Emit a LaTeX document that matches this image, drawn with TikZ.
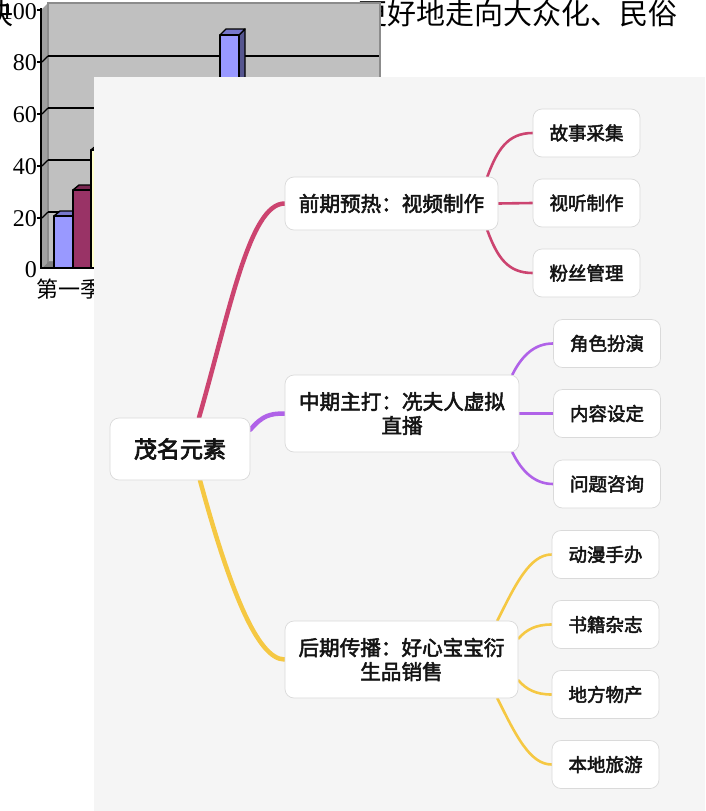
\documentclass[tikz,border=0pt]{standalone}
\usepackage{fontspec}
\setmainfont{Liberation Serif}
\newfontfamily\cjk{Noto Sans CJK SC}
\newfontfamily\cjkm[FakeBold=2.5]{Noto Sans CJK SC}
\newfontfamily\cjkb[FakeBold=3.2]{Noto Sans CJK SC}
\usetikzlibrary{calc}
\pgfdeclarelayer{bg}
\pgfdeclarelayer{mid}
\pgfsetlayers{bg,mid,main}
\definecolor{mmpink}{HTML}{CC4470}
\definecolor{mmpurple}{HTML}{B062E8}
\definecolor{mmyellow}{HTML}{F5C843}
\definecolor{mmborder}{HTML}{DADADA}
\definecolor{panelbg}{HTML}{F5F5F5}
\definecolor{mmtext}{HTML}{141414}
\definecolor{wallgray}{HTML}{C0C0C0}
\definecolor{wallborder}{HTML}{8C8C8C}
\definecolor{sidegray}{HTML}{A0A0A0}
\definecolor{floorgray}{HTML}{808080}
\definecolor{barblue}{HTML}{9999FF}
\definecolor{barblueside}{HTML}{55558F}
\definecolor{barbluetop}{HTML}{7777CC}
\definecolor{barmaroon}{HTML}{993366}
\definecolor{barmaroontop}{HTML}{7A2852}
\definecolor{baryellow}{HTML}{FFFFCC}
\begin{document}
\begin{tikzpicture}[x=1pt,y=-1pt,
  mm/.style={draw=mmborder, fill=white, rounded corners=9pt, line width=0.7pt, inner sep=0pt, align=center, text=mmtext},
  rootbox/.style={mm, minimum width=140pt, minimum height=62pt, font=\cjkb\fontsize{23}{27}\selectfont},
  midbox/.style={mm, minimum height=53pt, font=\cjkm\fontsize{20.6}{24}\selectfont},
  leafbox/.style={mm, minimum width=107pt, minimum height=48pt, font=\cjkm\fontsize{18.5}{22}\selectfont},
  mainedge/.style={line width=4.5pt, line cap=round},
  subedge/.style={line width=2.6pt, line cap=round},
  barline/.style={draw=black, line width=1.4pt, line join=round},
  ticklab/.style={anchor=east, inner sep=0pt, font=\fontsize{24}{24}\selectfont},
  gridln/.style={draw=black, line width=1.4pt}
]
\useasboundingbox (0,0) rectangle (705,811);

\begin{pgfonlayer}{bg}
\fill[white] (0,0) rectangle (705,811);
% text line behind the chart
\node[anchor=base east, inner sep=0pt, font=\cjk\fontsize{29}{29}\selectfont] (tleft) at (14,24) {决};
\node[anchor=base west, inner sep=0pt, font=\cjk\fontsize{29}{29}\selectfont] (tright) at (358,24) {更好地走向大众化、民俗};
% chart walls
\fill[sidegray] (42,9) -- (48,3) -- (48,262) -- (42,268) -- cycle;
\filldraw[fill=wallgray, draw=wallborder, line width=1.5pt] (48,3) rectangle (380,262);
\fill[floorgray] (42,268) -- (48,262) -- (380,262) -- (374,268) -- cycle;
% gridlines
\foreach \gy in {56,108,160,212}{
  \draw[gridln] (48,\gy) -- (379,\gy);
  \draw[gridln] (42,\gy+6) -- (48,\gy);
  \draw[gridln] (37,\gy+6) -- (42,\gy+6);
}
\draw[gridln] (37,10) -- (42,10);
% axes
\draw[draw=black, line width=2pt] (41,8) -- (41,268) -- (380,268);
% bars
\filldraw[barline, fill=barbluetop] (54,216) -- (60,211) -- (79,211) -- (73,216) -- cycle;
\filldraw[barline, fill=barblue] (54,216) rectangle (73,268);
\filldraw[barline, fill=barmaroontop] (73,190) -- (79,185) -- (97,185) -- (91,190) -- cycle;
\filldraw[barline, fill=barmaroon] (73,190) rectangle (91,268);
\filldraw[barline, fill=baryellow] (91,150) -- (97,145) -- (116,145) -- (110,150) -- cycle;
\filldraw[barline, fill=baryellow] (91,150) rectangle (110,268);
\filldraw[barline, fill=barblueside] (239,35) -- (245,29) -- (245,263) -- (239,268) -- cycle;
\filldraw[barline, fill=barbluetop] (220,35) -- (226,29) -- (245,29) -- (239,35) -- cycle;
\filldraw[barline, fill=barblue] (220,35) rectangle (239,268);
% tick labels
\node[ticklab] (l100) at (37,12) {100};
\node[ticklab] (l80) at (37,63) {80};
\node[ticklab] (l60) at (37,115) {60};
\node[ticklab] (l40) at (37,167) {40};
\node[ticklab] (l20) at (37,219) {20};
\node[ticklab] (l0) at (37,270) {0};
\node[anchor=west, inner sep=0pt, font=\cjk\fontsize{22}{22}\selectfont] (xlab) at (36,289) {第一季};
% mind map panel
\fill[panelbg] (94,77) rectangle (705,811);
\end{pgfonlayer}

% nodes
\node[rootbox] (root) at (180,449) {茂名元素};
\node[midbox, minimum width=213pt] (n1) at (391.5,203.5) {前期预热：视频制作};
\node[midbox, minimum width=234pt, minimum height=77pt] (n2) at (402,413.5) {中期主打：冼夫人虚拟\\直播};
\node[midbox, minimum width=233pt, minimum height=77pt] (n3) at (401.5,659.5) {后期传播：好心宝宝衍\\生品销售};
\node[leafbox] (a1) at (586.5,133) {故事采集};
\node[leafbox] (a2) at (586.5,203) {视听制作};
\node[leafbox] (a3) at (586.5,273) {粉丝管理};
\node[leafbox] (b1) at (607,343.5) {角色扮演};
\node[leafbox] (b2) at (607,413.5) {内容设定};
\node[leafbox] (b3) at (607,484) {问题咨询};
\node[leafbox] (c1) at (605.5,554.5) {动漫手办};
\node[leafbox] (c2) at (605.5,624.5) {书籍杂志};
\node[leafbox] (c3) at (605.5,694.5) {地方物产};
\node[leafbox] (c4) at (605.5,764.5) {本地旅游};

\begin{pgfonlayer}{mid}
% main branches
\draw[mainedge, mmpink] ($(root.north)+(19,0)$) .. controls +(31,-108) and +(-35,0) .. (n1.west);
\draw[mainedge, mmpurple] ($(root.north east)+(0,12)$) .. controls +(12,-14) and +(-15,0) .. (n2.west);
\draw[mainedge, mmyellow] ($(root.south)+(20,0)$) .. controls +(30,110) and +(-27,0) .. (n3.west);
% pink sub branches
\draw[subedge, mmpink] ($(n1.north east)+(-11,0)$) .. controls +(10,-27) and +(-25,0) .. (a1.west);
\draw[subedge, mmpink] (n1.east) -- (a2.west);
\draw[subedge, mmpink] ($(n1.south east)+(-11,0)$) .. controls +(10,27) and +(-25,0) .. (a3.west);
% purple sub branches
\draw[subedge, mmpurple] ($(n2.north east)+(-7,0)$) .. controls +(10,-20) and +(-18,0) .. (b1.west);
\draw[subedge, mmpurple] (n2.east) -- (b2.west);
\draw[subedge, mmpurple] ($(n2.south east)+(-7,0)$) .. controls +(10,20) and +(-18,0) .. (b3.west);
% yellow sub branches
\draw[subedge, mmyellow] ($(n3.north east)+(-21,0)$) .. controls +(18,-36) and +(-22,0) .. (c1.west);
\draw[subedge, mmyellow] ($(n3.north east)+(0,18)$) .. controls +(8,-9) and +(-16,0) .. (c2.west);
\draw[subedge, mmyellow] ($(n3.south east)+(0,-18)$) .. controls +(8,9) and +(-16,0) .. (c3.west);
\draw[subedge, mmyellow] ($(n3.south east)+(-21,0)$) .. controls +(18,36) and +(-22,0) .. (c4.west);
\end{pgfonlayer}
\end{tikzpicture}
\end{document}
